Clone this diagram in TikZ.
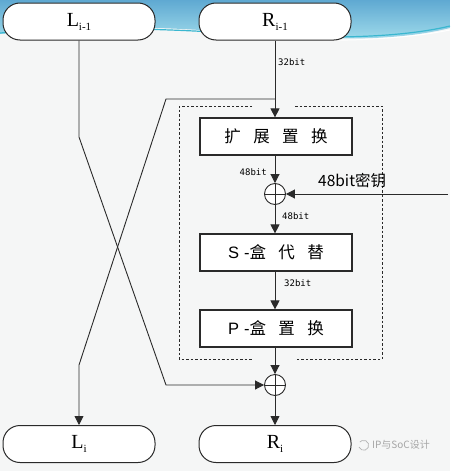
\documentclass[tikz,border=0pt]{standalone}
\usepackage{fontspec}
\setmainfont{Liberation Serif}
\newfontfamily\cjk{Noto Sans CJK SC}
\newfontfamily\latf{Liberation Sans}
\newfontfamily\monof{DejaVu Sans Mono}
\usetikzlibrary{arrows.meta}
\definecolor{ink}{HTML}{2A2A2A}
\definecolor{bgc}{HTML}{F5F6F6}
\definecolor{skyA}{HTML}{5FA9D2}
\definecolor{skyB}{HTML}{A8E2EE}
\definecolor{teal}{HTML}{3AB7D0}
\begin{document}
\begin{tikzpicture}[x=1pt,y=-1pt,
  term/.style={draw=ink,line width=1pt,fill=white,minimum width=152pt,minimum height=37pt,rounded corners=17pt,inner sep=0pt},
  proc/.style={draw=ink,line width=1.2pt,fill=white,minimum width=152pt,minimum height=37pt,inner sep=0pt,font=\cjk\fontsize{16.5}{16.5}\selectfont},
  xorc/.style={draw=ink,line width=0.9pt,circle,minimum size=21pt,inner sep=0pt,fill=white},
  lab/.style={font=\monof\fontsize{9}{9}\selectfont,inner sep=0pt},
  conn/.style={draw=ink,line width=0.9pt},
  arr/.style={conn,-{Triangle[width=9pt,length=9pt]}},
  dbox/.style={draw=ink,line width=0.8pt,dash pattern=on 2.5pt off 2pt}]
\useasboundingbox (0,0) rectangle (450,471);
\fill[bgc] (0,0) rectangle (450,471);
% top background swoosh
\shade[top color=skyA,bottom color=skyB,draw=none] (0,0) -- (450,0) -- (450,28) .. controls (380,45) and (300,38) .. (200,30) .. controls (120,25) and (60,28) .. (0,34) -- cycle;
\draw[teal,line width=1.2pt] (0,33) .. controls (80,27) and (150,28) .. (230,33) .. controls (320,40) and (400,38) .. (450,26);
\draw[white,line width=1pt] (240,36) .. controls (320,44) and (400,40) .. (450,30);

% dashed frame
\draw[dbox] (252,106) -- (179,106) -- (179,359) -- (252,359);
\draw[dbox] (295,106) -- (382,106) -- (382,359) -- (295,359);

% terminals
\node[term] (L0) at (79,21.5) {\fontsize{20}{20}\selectfont L\raisebox{-4pt}{\fontsize{11}{11}\selectfont i-1}};
\node[term] (R0) at (275,21.5) {\fontsize{20}{20}\selectfont R\raisebox{-4pt}{\fontsize{11}{11}\selectfont i-1}};
\node[term] (L1) at (79,444) {\fontsize{20}{20}\selectfont L\raisebox{-4pt}{\fontsize{11}{11}\selectfont i}};
\node[term] (R1) at (275,444) {\fontsize{20}{20}\selectfont R\raisebox{-4pt}{\fontsize{11}{11}\selectfont i}};

% processing boxes
\node[proc] (E) at (276,136.5) {扩\hspace{0.75em}展\hspace{0.75em}置\hspace{0.75em}换};
\node[proc] (S) at (276,252.5) {{\latf S\hspace{0.3em}-}盒\hspace{0.75em}代\hspace{0.75em}替};
\node[proc] (P) at (276,328.5) {{\latf P\hspace{0.3em}-}盒\hspace{0.75em}置\hspace{0.75em}换};

% xor nodes
\node[xorc] (X1) at (275,194) {};
\draw[conn] (X1.north) -- (X1.south) (X1.west) -- (X1.east);
\node[xorc] (X2) at (275,385) {};
\draw[conn] (X2.north) -- (X2.south) (X2.west) -- (X2.east);

% helper coordinates
\coordinate (jR) at (275,99);
\coordinate (rc) at (166,99);
\coordinate (rd) at (79,365);
\coordinate (lc) at (79,137);
\coordinate (ld) at (166,385);
\coordinate (kin) at (448,194);

% connectors
\draw[arr] (R0.south) -- (E.north -| R0.south);
\draw[arr] (E.south -| X1.north) -- (X1.north);
\draw[arr] (kin) -- (X1.east);
\draw[arr] (X1.south) -- (S.north -| X1.south);
\draw[arr] (S.south -| X1.south) -- (P.north -| X1.south);
\draw[arr] (P.south -| X2.north) -- (X2.north);
\draw[arr] (X2.south) -- (R1.north);
\draw[arr] (L0.south) -- (lc) -- (ld) -- (X2.west);
\draw[arr] (jR) -- (rc) -- (rd) -- (L1.north);

% labels
\node[lab,anchor=west] (t1) at (278,62) {32bit};
\node[lab,anchor=east] (t2) at (267,172) {48bit};
\node[lab,anchor=west] (t3) at (282,216) {48bit};
\node[lab,anchor=west] (t4) at (284,283) {32bit};
\node[anchor=west,inner sep=0pt,font=\cjk\fontsize{15.5}{15.5}\selectfont] (key) at (318,181) {48bit密钥};

% watermark
\draw[gray!60,line width=0.7pt] (359,447) arc (200:500:5pt);
\node[anchor=west,inner sep=0pt,text=gray!70,font=\cjk\fontsize{10}{10}\selectfont] (wm) at (372,445) {IP与SoC设计};
\end{tikzpicture}
\end{document}
